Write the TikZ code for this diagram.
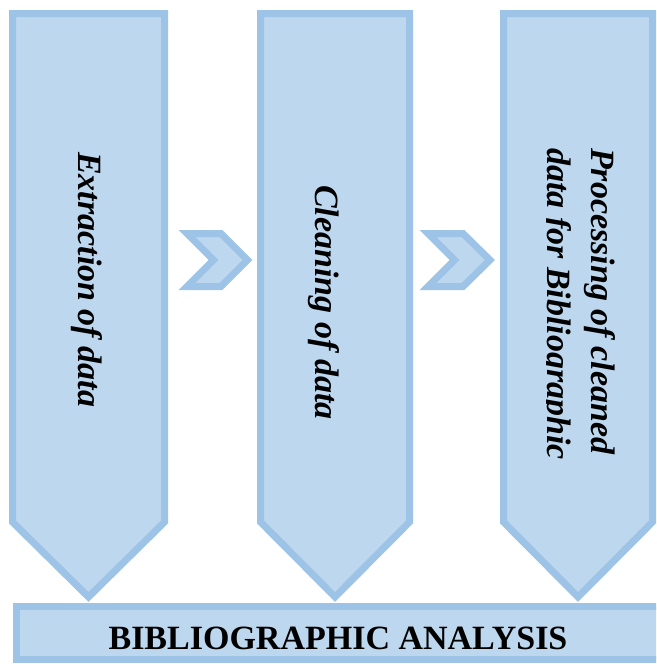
\documentclass[tikz,border=0pt]{standalone}
\usepackage{fontspec}
\setmainfont{Liberation Serif}
\definecolor{boxfill}{HTML}{BDD7EE}
\definecolor{boxline}{HTML}{9DC3E6}
\tikzset{
  stage/.style={draw=boxline, fill=boxfill, line width=7pt, line join=miter},
  chev/.style={draw=boxline, fill=boxfill, line width=7pt, line join=miter},
  stagetext/.style={rotate=-90, anchor=base west, inner sep=0pt,
    font=\fontsize{34}{45}\selectfont\bfseries\itshape},
}
\begin{document}
\begin{tikzpicture}[x=1pt,y=-1pt]
\useasboundingbox (0,0) rectangle (656,664);
\clip (0,0) rectangle (656,664);
% columns
\path[stage] (12.5,13.5) -- (164.5,13.5) -- (164.5,522) -- (88.5,597) -- (12.5,522) -- cycle;
\path[stage] (260.5,13.5) -- (409.5,13.5) -- (409.5,522) -- (335,597) -- (260.5,522) -- cycle;
\path[stage] (503.5,13.5) -- (652.5,13.5) -- (652.5,522) -- (578,597) -- (503.5,522) -- cycle;
% chevrons
\path[chev] (187,233.5) -- (221,233.5) -- (247.5,260) -- (221,286.5) -- (187,286.5) -- (213.5,260) -- cycle;
\path[chev] (428,233.5) -- (463,233.5) -- (490,260) -- (463,286.5) -- (428,286.5) -- (454.5,260) -- cycle;
% bottom bar
\path[stage] (16.5,606.5) rectangle (662,659);
% texts
\node[stagetext] (t1) at (78,152) {Extraction of data};
\node[stagetext] (t2) at (315,185) {Cleaning of data};
\node[stagetext] (t3a) at (591,148) {Processing of cleaned};
\begin{scope}
\clip (546,100) rectangle (656,500);
\node[stagetext] (t3b) at (547,148) {data for Bibliographic};
\end{scope}
\node[font=\fontsize{34}{40}\selectfont\bfseries, anchor=base, inner sep=0pt] (bar) at (338,649) {BIBLIOGRAPHIC ANALYSIS};
\end{tikzpicture}
\end{document}
